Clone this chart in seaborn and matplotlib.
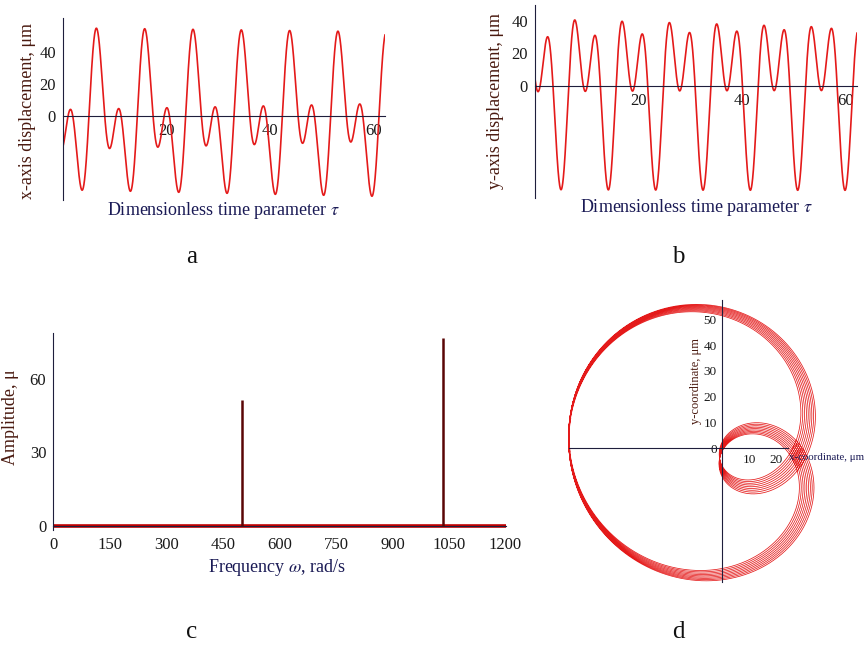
import numpy as np
import pandas as pd
import matplotlib
matplotlib.use("Agg")
import matplotlib.pyplot as plt
import seaborn as sns

# -------------------------------
# values
# -------------------------------
tau_end = 62.3

# (a) x-axis displacement: mean + two harmonics (um)
x_period = 9.33
x_mean = -1.15
x_amp = [28.7, 29.85]
x_phase = [4.754, 2.3]
x_detune = -0.0032

# (b) y-axis displacement
y_period = 9.15
y_mean = -0.65
y_amp = [30.5, 32.65]
y_phase = [0.16, 3.84]
y_detune = -0.0031

# (c) spectrum peaks
freq_peaks = [500, 1035]
amp_peaks = [51.3, 76.6]
freq_ticks = [0, 150, 300, 450, 600, 750, 900, 1050, 1200]

# (d) trajectory: limacon-like loops (um)
d_center = [-0.5, 4.0]
d_radius = [28.0, 28.5]
d_sag = 4.0
d_loops = 9
d_turn = 0.45
d_tilt = -0.02
d_ystretch = 1.04

RED = "#e41a1a"
AXC = "#1e1e3c"
YLC = "#4a1a10"
XLC = "#1a1a55"
W, H = 868, 649

sns.set_theme(style="white")
plt.rcParams['font.family'] = ['Liberation Serif', 'DejaVu Serif']
plt.rcParams['mathtext.fontset'] = 'stix'

fig = plt.figure(figsize=(W / 100, H / 100), dpi=100)


def px_axes(left, top, right, bottom):
    return fig.add_axes([left / W, 1 - bottom / H, (right - left) / W, (bottom - top) / H])


def px_text(x, y, s, **kw):
    fig.text(x / W, 1 - y / H, s, ha='center', va='center', **kw)


def maple_axes(ax):
    ax.set_facecolor('none')
    for s in ['top', 'right']:
        ax.spines[s].set_visible(False)
    ax.spines['left'].set_position(('data', 0))
    ax.spines['bottom'].set_position(('data', 0))
    for s in ['left', 'bottom']:
        ax.spines[s].set_color(AXC)
        ax.spines[s].set_linewidth(0.8)
    ax.tick_params(direction='out', length=3, width=0.6, colors=AXC,
                   labelcolor='#1a1a1a', labelsize=12, pad=2)
    ax.set_xlabel('')
    ax.set_ylabel('')


# -------------------------------
# (a) x displacement
# -------------------------------
tau = np.linspace(0, tau_end, 3000)
wx = 2 * np.pi / x_period
xdisp = (x_mean + x_amp[0] * np.cos((wx + x_detune) * tau - x_phase[0])
         + x_amp[1] * np.cos(2 * wx * tau - x_phase[1]))
dfa = pd.DataFrame({'tau': tau, 'x': xdisp})

ax = px_axes(62.7, 18, 385, 200)
sns.lineplot(data=dfa, x='tau', y='x', color=RED, lw=1.2, ax=ax)
ax.set_xlim(0, tau_end)
ax.set_ylim(-52.7, 61.1)
maple_axes(ax)
ax.set_xticks([20, 40, 60])
ax.set_yticks([0, 20, 40])
px_text(28, 111, 'x-axis displacement, μm', rotation=90, fontsize=13, color=YLC)
px_text(224, 210, r'Dimensionless time parameter $\tau$', fontsize=13, color=XLC)

# -------------------------------
# (b) y displacement
# -------------------------------
wy = 2 * np.pi / y_period
ydisp = (y_mean + y_amp[0] * np.cos((wy + y_detune) * tau - y_phase[0])
         + y_amp[1] * np.cos(2 * wy * tau - y_phase[1]))
dfb = pd.DataFrame({'tau': tau, 'y': ydisp})

ax = px_axes(535, 5, 857, 198)
sns.lineplot(data=dfb, x='tau', y='y', color=RED, lw=1.2, ax=ax)
ax.set_xlim(0, tau_end)
ax.set_ylim(-68.5, 49.5)
maple_axes(ax)
ax.set_xticks([20, 40, 60])
ax.set_yticks([0, 20, 40])
px_text(496, 101, 'y-axis displacement, μm', rotation=90, fontsize=13, color=YLC)
px_text(697, 207, r'Dimensionless time parameter $\tau$', fontsize=13, color=XLC)

# -------------------------------
# (c) spectrum
# -------------------------------
ax = px_axes(53.3, 333, 505.5, 530)
ax.axhline(0, color="#c00000", lw=2.6, zorder=2)
ax.vlines(freq_peaks, 0, amp_peaks, color="#5a0505", lw=1.8, zorder=3)
ax.set_xlim(0, 1200)
ax.set_ylim(-1.8, 78.6)
maple_axes(ax)
ax.set_xticks(freq_ticks)
ax.set_yticks([0, 30, 60])
ax.tick_params(axis='x', pad=5)
px_text(11, 417, 'Amplitude, μ', rotation=90, fontsize=13, color=YLC)
px_text(277, 568, r'Frequency $\omega$, rad/s', fontsize=13, color=XLC)

# -------------------------------
# (d) trajectory
# -------------------------------
theta = np.linspace(0, 2 * np.pi * d_loops, 12000)
delta = d_turn * theta / theta[-1] - d_turn / 2
z = -(d_radius[0] * np.exp(1j * theta) + d_radius[1] * np.exp(1j * (2 * theta + delta)))
z = z * np.exp(1j * d_tilt)
dfd = pd.DataFrame({'x': z.real + d_center[0],
                    'y': z.imag * d_ystretch + d_center[1] - d_sag * (1 - np.cos(theta))})

ax = px_axes(565, 298, 868, 592)
sns.lineplot(data=dfd, x='x', y='y', sort=False, estimator=None,
             color=RED, lw=0.55, ax=ax)
ax.set_xlim(-58.3, 54)
ax.set_ylim(-55.7, 58.3)
maple_axes(ax)
ax.spines['bottom'].set_bounds(-57, 24.5)
ax.spines['left'].set_bounds(-51.8, 57.5)
ax.set_xticks([10, 20])
ax.set_yticks([0, 10, 20, 30, 40, 50])
ax.tick_params(labelsize=9.5, length=2)
ax.text(24.6, -3.6, 'x-coordinate, μm', fontsize=7.8, color=XLC, ha='left', va='center')
ax.text(-9.7, 26, 'y-coordinate, μm', fontsize=9, color=YLC, rotation=90,
        ha='center', va='center')

# panel letters
for lab, (px, py) in zip(['a', 'b', 'c', 'd'], [(192, 257), (678, 257), (192, 632), (678, 632)]):
    px_text(px, py, lab, fontsize=18, color='#111111')

fig.savefig('out.png', dpi=100)
